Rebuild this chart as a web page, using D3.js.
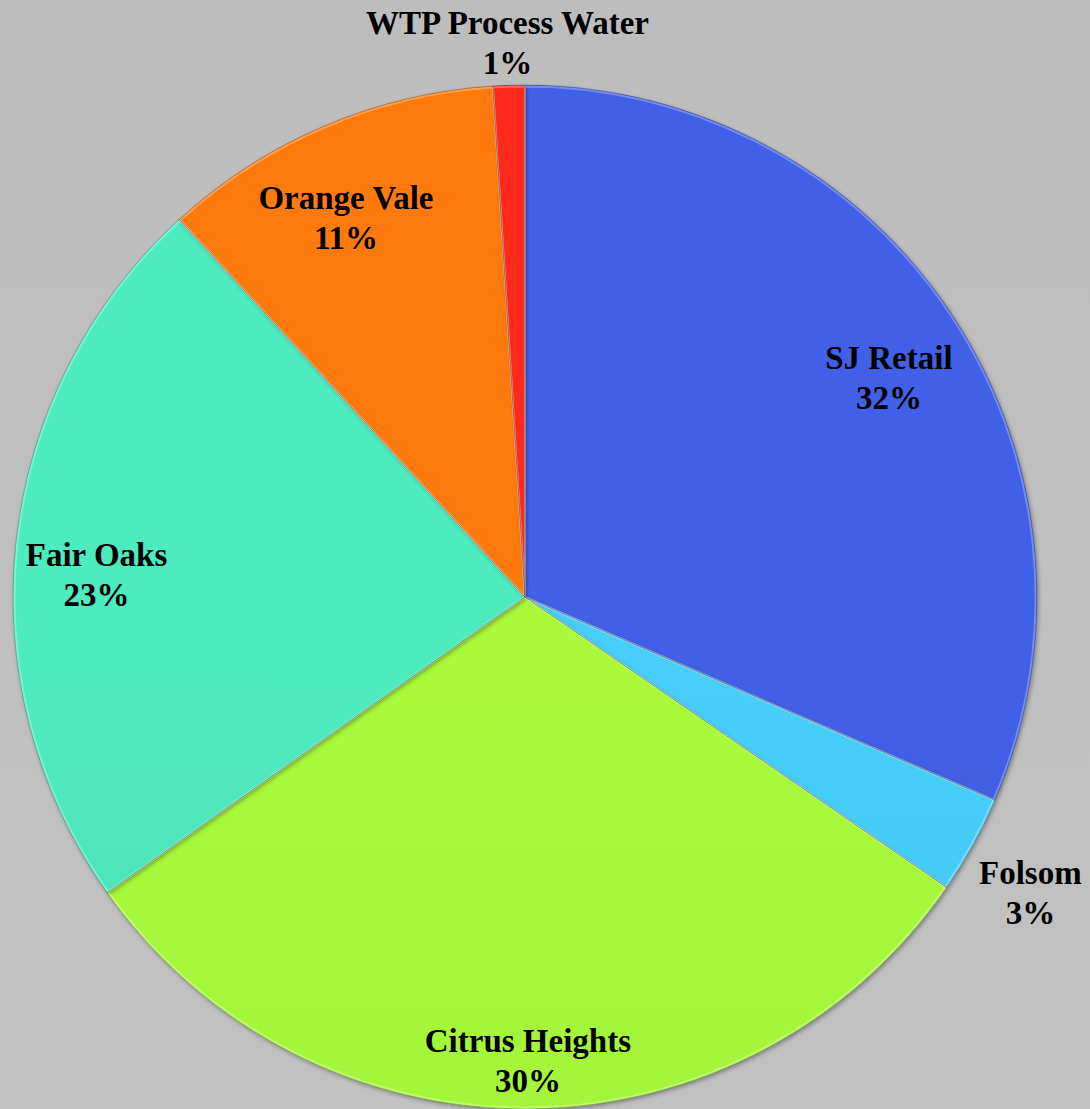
<!DOCTYPE html>
<html>
<head>
<meta charset="utf-8">
<script src="https://cdn.jsdelivr.net/npm/d3@7"></script>
<style>
  html, body { margin: 0; padding: 0; background: #bfbfbf; }
  svg { display: block; }
  text { font-family: "Liberation Serif", "Times New Roman", serif; font-weight: bold; fill: #000; }
</style>
</head>
<body>
<svg id="chart" width="1090" height="1109"></svg>
<script>
// ---- data ----
const categories = ["SJ Retail", "Folsom", "Citrus Heights", "Fair Oaks", "Orange Vale", "WTP Process Water"];
const values = [31.5, 3.1, 30.6, 23.0, 10.8, 1.0];
const percentLabels = ["32%", "3%", "30%", "23%", "11%", "1%"];

// ---- styles ----
const colorsTop = ["#4060e8", "#46cefa", "#a8fa3a", "#4eecbe", "#ff7a08", "#ff2b1c"];
const colorsBottom = ["#3a51c6", "#3fc6f3", "#9eef3a", "#45caab", "#fb7206", "#f22414"];
const labelRadiusFactor = [0.83, 1.143, 0.905, 0.838, 0.82, 1.085];
const labelAngleOffsetDeg = [2.2, 1.3, 0, -3.1, -2.2, 0];

const W = 1090, H = 1109;
const cx = 525, cy = 597, R = 512;

const svg = d3.select("#chart");
const defs = svg.append("defs");

const bg = defs.append("linearGradient").attr("id", "bg").attr("x1", 0).attr("y1", 0).attr("x2", 0).attr("y2", 1);
bg.append("stop").attr("offset", "0%").attr("stop-color", "#bdbdbd");
bg.append("stop").attr("offset", "100%").attr("stop-color", "#c1c1c1");
svg.append("rect").attr("width", W).attr("height", H).attr("fill", "url(#bg)");

categories.forEach((c, i) => {
  const g = defs.append("linearGradient").attr("id", "g" + i)
    .attr("gradientUnits", "userSpaceOnUse")
    .attr("x1", cx).attr("y1", cy - R).attr("x2", cx).attr("y2", cy + R);
  g.append("stop").attr("offset", "0%").attr("stop-color", colorsTop[i]);
  g.append("stop").attr("offset", "100%").attr("stop-color", colorsBottom[i]);
});

const f = defs.append("filter").attr("id", "shadow").attr("x", "-10%").attr("y", "-10%").attr("width", "120%").attr("height", "120%");
f.append("feDropShadow").attr("dx", 1.5).attr("dy", 2).attr("stdDeviation", 2).attr("flood-color", "#000").attr("flood-opacity", 0.35);

const pie = d3.pie().sort(null).value(d => d.v);
const arcs = pie(categories.map((c, i) => ({ c, v: values[i], i })));
const arc = d3.arc().innerRadius(0).outerRadius(R);

const gPie = svg.append("g").attr("transform", `translate(${cx},${cy})`);

gPie.selectAll("path.slice").data(arcs).join("path")
  .attr("class", "slice")
  .attr("d", arc)
  .attr("fill", d => `url(#g${d.data.i})`)
  .attr("filter", "url(#shadow)");

gPie.selectAll("path.edge").data(arcs).join("path")
  .attr("class", "edge")
  .attr("d", d3.arc().innerRadius(0).outerRadius(R - 1.5))
  .attr("fill", "none")
  .attr("stroke", "#ffffff")
  .attr("stroke-opacity", 0.28)
  .attr("stroke-width", 2);

gPie.selectAll("path.dark").data(arcs).join("path")
  .attr("class", "dark")
  .attr("d", arc)
  .attr("fill", "none")
  .attr("stroke", "#000")
  .attr("stroke-opacity", 0.2)
  .attr("stroke-width", 1);

const lab = gPie.selectAll("g.lab").data(arcs).join("g").attr("class", "lab")
  .attr("transform", d => {
    const a = (d.startAngle + d.endAngle) / 2 + labelAngleOffsetDeg[d.data.i] * Math.PI / 180;
    const r = R * labelRadiusFactor[d.data.i];
    return `translate(${Math.sin(a) * r},${-Math.cos(a) * r})`;
  });

lab.append("text").attr("text-anchor", "middle").attr("y", -8).attr("font-size", 33)
  .text(d => d.data.c);
lab.append("text").attr("text-anchor", "middle").attr("y", 32).attr("font-size", 33)
  .text(d => percentLabels[d.data.i]);
</script>
</body>
</html>
